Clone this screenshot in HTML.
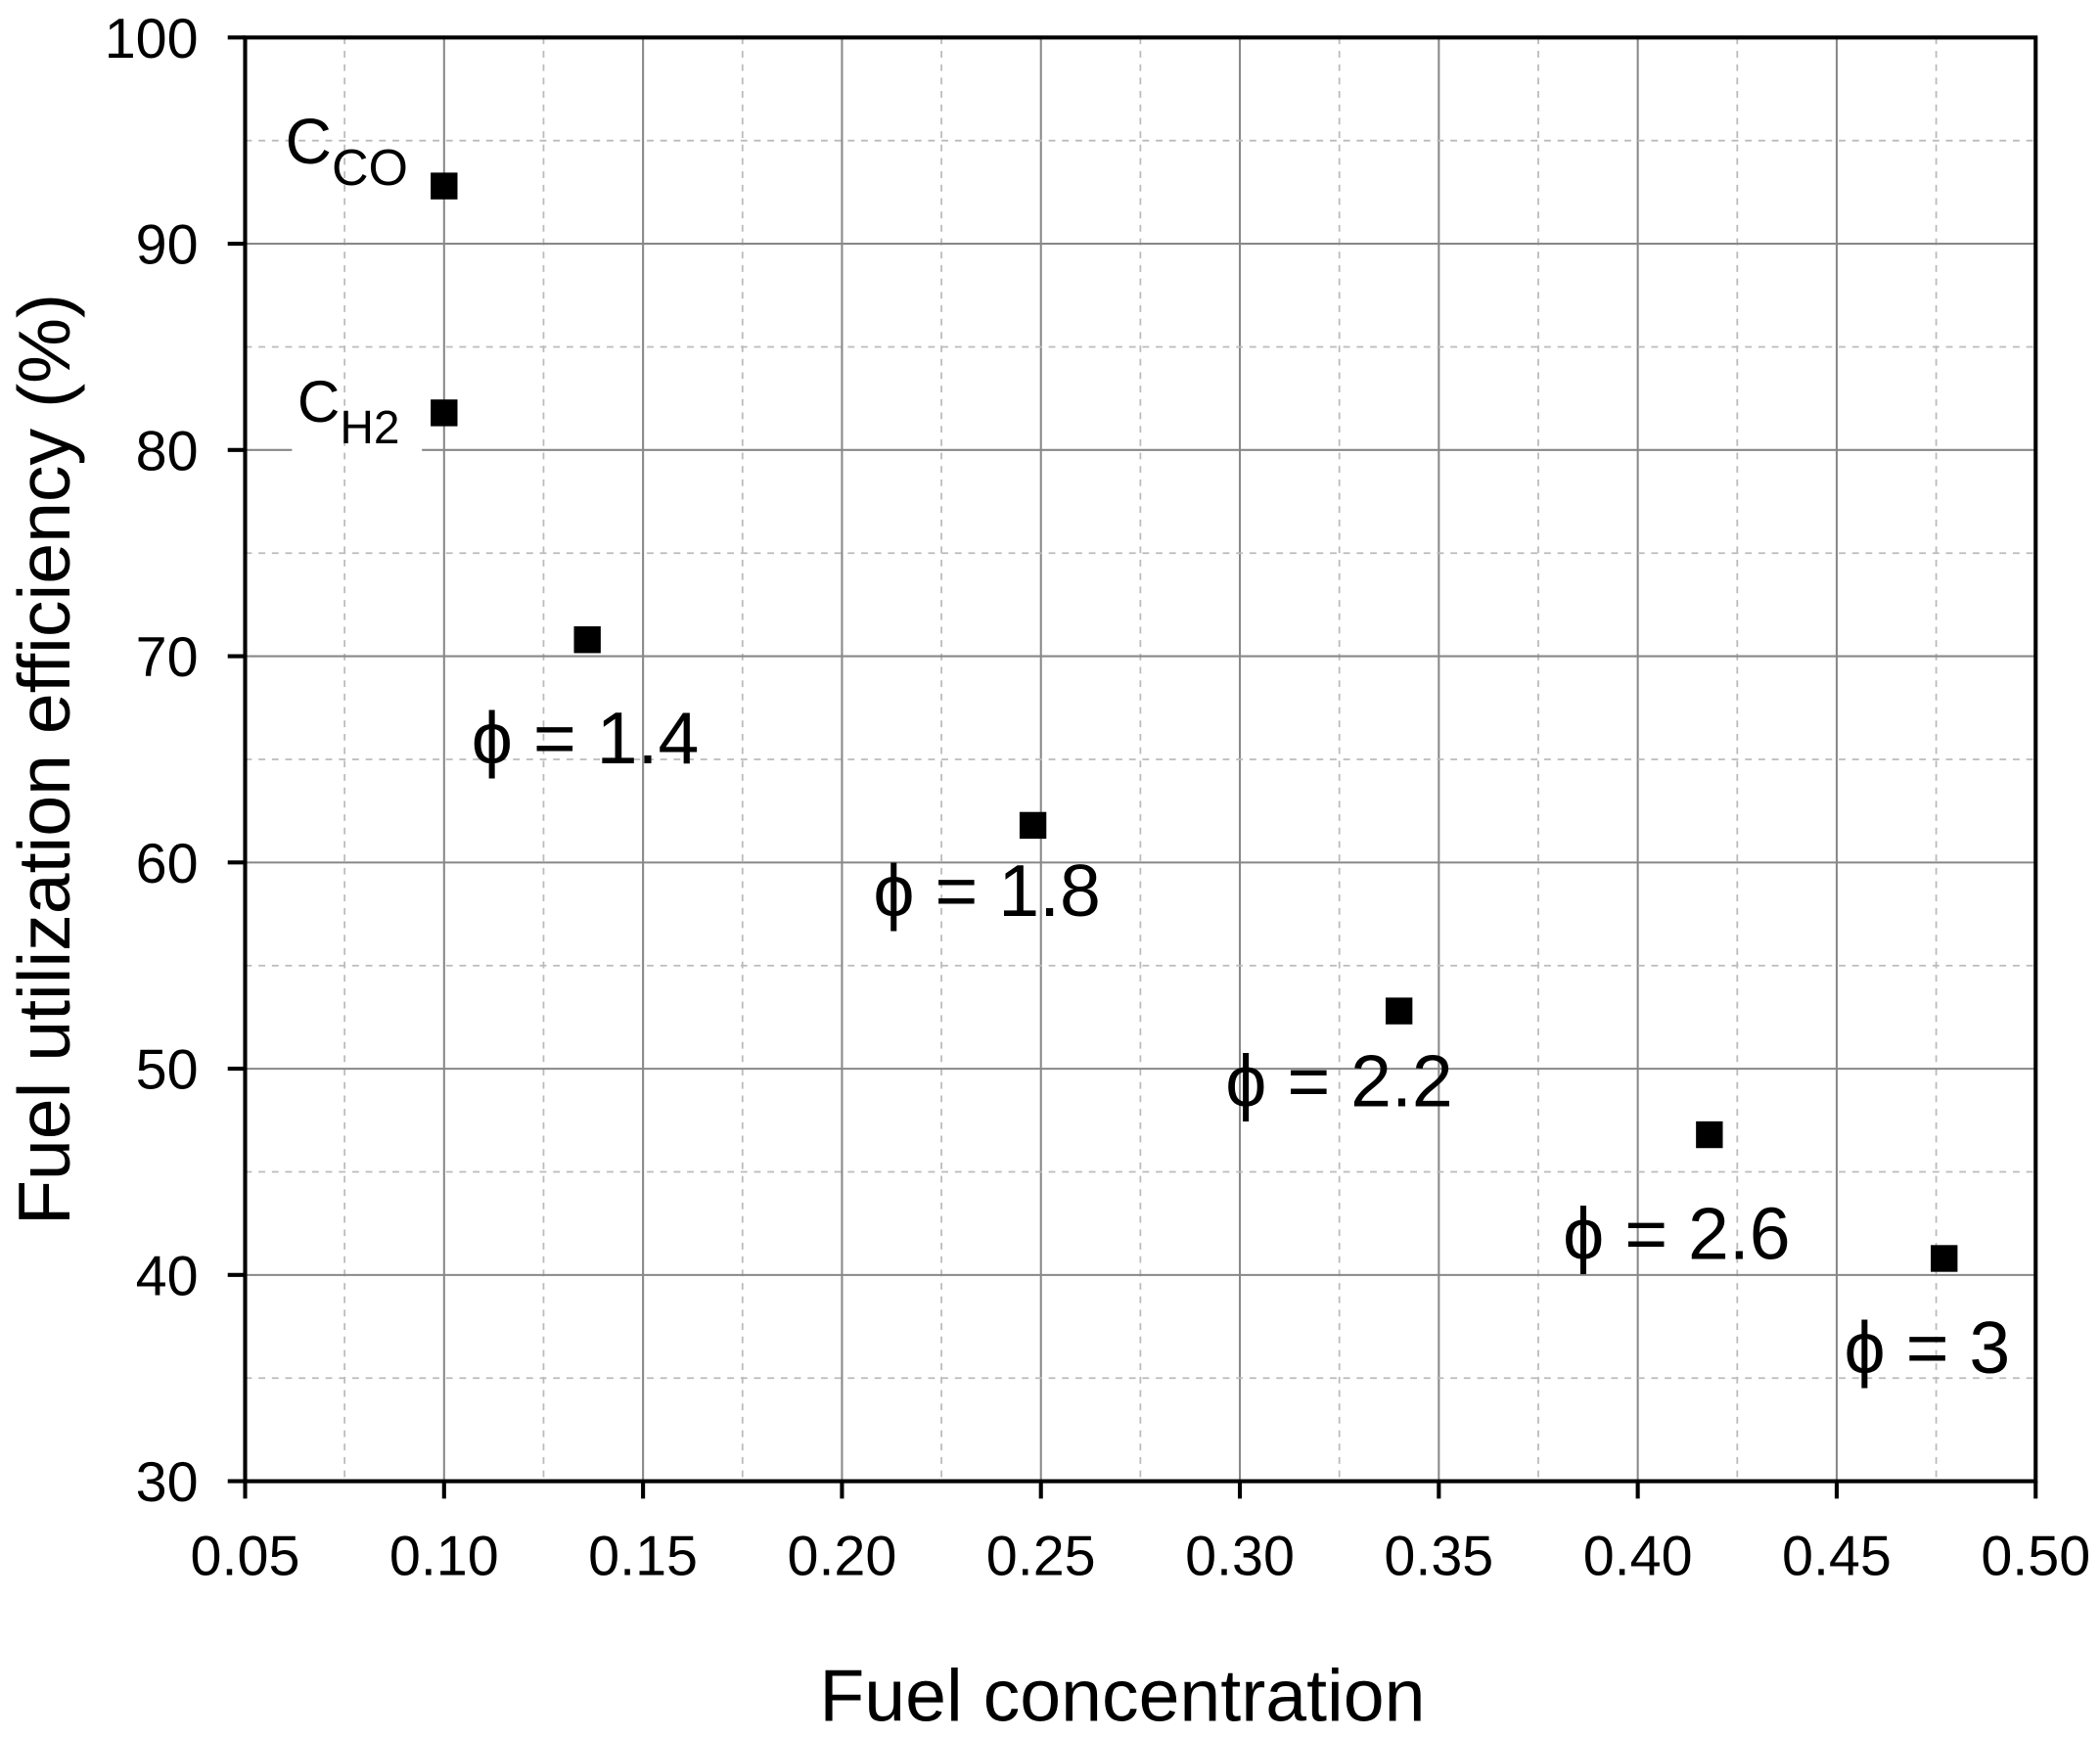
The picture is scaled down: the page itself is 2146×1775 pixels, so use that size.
<!DOCTYPE html>
<html><head><meta charset="utf-8"><style>
html,body{margin:0;padding:0;background:#fff;}
svg{display:block;font-family:"Liberation Sans",sans-serif;}
</style></head><body>
<svg id="chart" width="2146" height="1775" viewBox="0 0 1568 1297" xmlns="http://www.w3.org/2000/svg">
<g id="grid"></g>
<g id="axes"></g>
<g id="marks"></g>
<g id="annot"></g>
<text x="838" y="1285" font-size="55" text-anchor="middle">Fuel concentration</text>
<text transform="translate(52,567) rotate(-90)" font-size="55" text-anchor="middle">Fuel utilization efficiency (%)</text>
</svg>
<script>
const xValues = [0.10, 0.10, 0.136, 0.248, 0.34, 0.418, 0.477];
const yValues = [92.8, 81.8, 70.8, 61.8, 52.8, 46.8, 40.8];
const xTicks = [0.05,0.10,0.15,0.20,0.25,0.30,0.35,0.40,0.45,0.50];
const xTickLabels = ["0.05","0.10","0.15","0.20","0.25","0.30","0.35","0.40","0.45","0.50"];
const yTicks = [30,40,50,60,70,80,90,100];
const yTickLabels = ["30","40","50","60","70","80","90","100"];
const phiLabels = ["ϕ = 1.4","ϕ = 1.8","ϕ = 2.2","ϕ = 2.6","ϕ = 3"];

const L=183,R=1520,T=28,B=1106;
const sx=v=>L+(v-0.05)/(0.45)*(R-L);
const sy=v=>B-(v-30)/70*(B-T);
const NS="http://www.w3.org/2000/svg";
function mk(tag,attrs,parent,text){const e=document.createElementNS(NS,tag);for(const k in attrs)e.setAttribute(k,attrs[k]);if(text!==undefined)e.textContent=text;parent.appendChild(e);return e;}
const grid=document.getElementById('grid'),axes=document.getElementById('axes'),marks=document.getElementById('marks'),annot=document.getElementById('annot');

for(let i=0;i<xTicks.length;i++){
  const x=sx(xTicks[i]);
  if(i>0&&i<xTicks.length-1){const g=mk('line',{x1:x,x2:x,y1:T,y2:B,stroke:'#888','stroke-width':1.5},grid);
  
  }
  if(i<xTicks.length-1){const xm=sx(xTicks[i]+0.025);const g=mk('line',{x1:xm,x2:xm,y1:T,y2:B,stroke:'#bbb','stroke-width':1.3,'stroke-dasharray':'5,5'},grid);
  
  }
  const tk=mk('line',{x1:x,x2:x,y1:B,y2:B+13,stroke:'#000','stroke-width':3},axes);
  
  
  const t=mk('text',{x:x,y:1176,'font-size':42,'text-anchor':'middle'},axes,xTickLabels[i]);
  
  
}
for(let i=0;i<yTicks.length;i++){
  const y=sy(yTicks[i]);
  if(i>0&&i<yTicks.length-1){
    if(yTicks[i]===80){
      const g1=mk('line',{x1:L,x2:218,y1:y,y2:y,stroke:'#888','stroke-width':1.5},grid);
      
      
      const g2=mk('line',{x1:315,x2:R,y1:y,y2:y,stroke:'#888','stroke-width':1.5},grid);
      
      
    } else {
      const g=mk('line',{x1:L,x2:R,y1:y,y2:y,stroke:'#888','stroke-width':1.5},grid);
      
      
    }
  }
  if(i<yTicks.length-1){const ym=sy(yTicks[i]+5);const g=mk('line',{x1:L,x2:R,y1:ym,y2:ym,stroke:'#bbb','stroke-width':1.3,'stroke-dasharray':'5,5'},grid);
  
  }
  const tk=mk('line',{x1:L-13,x2:L,y1:y,y2:y,stroke:'#000','stroke-width':3},axes);
  
  
  const t=mk('text',{x:148,y:y+15,'font-size':42,'text-anchor':'end'},axes,yTickLabels[i]);
  
  
}
const frame=mk('rect',{x:L,y:T,width:R-L,height:B-T,fill:'none',stroke:'#000','stroke-width':3},axes);



for(let i=0;i<xValues.length;i++){
  const s=mk('rect',{x:sx(xValues[i])-10,y:sy(yValues[i])-10,width:20,height:20,fill:'#000'},marks);
  
  
}

const c1=mk('text',{x:213,y:122,'font-size':48},annot);


c1.innerHTML='C<tspan font-size="38" dy="16">CO</tspan>';
const c2=mk('text',{x:222,y:315,'font-size':44},annot);


c2.innerHTML='C<tspan font-size="35" dy="16">H2</tspan>';

const phiPos=[[352,570],[652,684],[915,826],[1167,940],[1377,1025]];
for(let i=0;i<phiLabels.length;i++){
  const t=mk('text',{x:phiPos[i][0],y:phiPos[i][1],'font-size':55},annot,phiLabels[i]);
  
  
}
</script>
</body></html>
